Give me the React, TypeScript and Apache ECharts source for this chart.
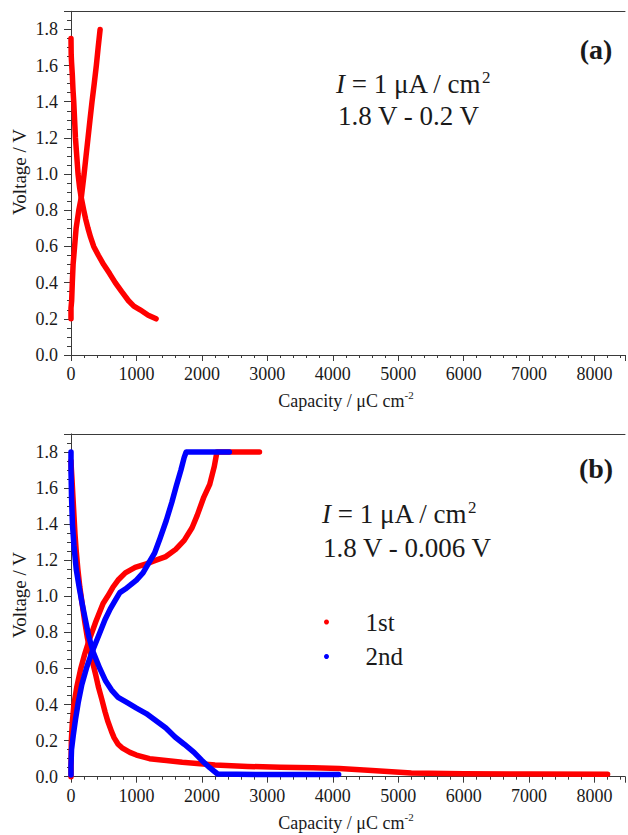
import React, { useEffect, useRef } from 'react';
import * as echarts from 'echarts';

// ---- data (capacity µC cm^-2, voltage V) ----
const A_DISCHARGE: number[][] = [
  [0, 1.75], [3, 1.66], [8, 1.62], [20, 1.55], [30, 1.47], [42, 1.4], [55, 1.3], [68, 1.2], [88, 1.1],
  [108, 1.0], [130, 0.93], [154, 0.875], [195, 0.8], [225, 0.75], [260, 0.7], [300, 0.65], [347, 0.6],
  [420, 0.55], [499, 0.5], [590, 0.45], [676, 0.4], [775, 0.35], [879, 0.3], [960, 0.27], [1056, 0.25],
  [1180, 0.22], [1300, 0.2],
];
const A_CHARGE: number[][] = [
  [0, 0.2], [0, 0.26], [10, 0.3], [20, 0.4], [32, 0.5], [55, 0.6], [78, 0.7], [119, 0.8], [159, 0.875],
  [200, 1.0], [230, 1.1], [260, 1.2], [290, 1.3], [321, 1.4], [355, 1.5], [387, 1.6], [415, 1.7], [445, 1.8],
];
const B1_DISCHARGE: number[][] = [
  [0, 1.75], [5, 1.71], [15, 1.65], [30, 1.55], [45, 1.45], [60, 1.35], [80, 1.25], [105, 1.15], [135, 1.05],
  [170, 0.96], [210, 0.86], [250, 0.77], [290, 0.7], [340, 0.62], [380, 0.56], [417, 0.5], [470, 0.43],
  [520, 0.36], [560, 0.31], [620, 0.25], [660, 0.215], [720, 0.18], [780, 0.16], [900, 0.135], [1000, 0.12],
  [1200, 0.1], [1700, 0.08], [2200, 0.065], [2700, 0.057], [3200, 0.052], [3700, 0.05], [4100, 0.045],
  [4600, 0.035], [5200, 0.02], [6000, 0.016], [7000, 0.015], [8200, 0.014],
];
const B1_CHARGE: number[][] = [
  [0, 0.0], [0, 0.05], [5, 0.2], [20, 0.3], [45, 0.4], [90, 0.5], [150, 0.6], [210, 0.68], [280, 0.76],
  [380, 0.86], [490, 0.96], [560, 1.0], [640, 1.05], [720, 1.09], [830, 1.13], [980, 1.16], [1150, 1.18],
  [1300, 1.2], [1450, 1.22], [1600, 1.26], [1730, 1.31], [1850, 1.38], [1930, 1.45], [2030, 1.55],
  [2120, 1.62], [2190, 1.72], [2230, 1.8], [2500, 1.8], [2880, 1.8],
];
const B2_DISCHARGE: number[][] = [
  [0, 1.8], [0, 1.7], [8, 1.55], [22, 1.4], [45, 1.28], [80, 1.15], [125, 1.05], [170, 0.96], [220, 0.87],
  [270, 0.78], [340, 0.69], [440, 0.6], [530, 0.53], [620, 0.48], [720, 0.44], [860, 0.41], [1000, 0.38],
  [1150, 0.35], [1300, 0.31], [1450, 0.27], [1590, 0.22], [1730, 0.18], [1880, 0.135], [2000, 0.09],
  [2120, 0.05], [2240, 0.015], [3000, 0.012], [4090, 0.012],
];
const B2_CHARGE: number[][] = [
  [0, 0.01], [0, 0.06], [8, 0.15], [35, 0.23], [70, 0.32], [110, 0.41], [165, 0.51], [235, 0.6], [320, 0.69],
  [420, 0.78], [519, 0.87], [600, 0.93], [680, 0.98], [746, 1.02], [830, 1.04], [900, 1.06], [1000, 1.09],
  [1100, 1.13], [1180, 1.18], [1278, 1.24], [1360, 1.32], [1456, 1.42], [1540, 1.52], [1608, 1.61],
  [1680, 1.7], [1730, 1.77], [1760, 1.8], [2100, 1.8], [2420, 1.8],
];

const LEGEND_NAMES = ['1st', '2nd'];
const X_MAX = 8466;
const Y_MAX = 1.9;

const FONT = '"Liberation Serif", "Times New Roman", serif';
const AX = '#3a3a3a';
const TXT = '#1a1a1a';
const RED = '#ff0000';
const BLUE = '#0000ff';

function xAxes(gridIndex: number) {
  return [
    {
      type: 'value', gridIndex, position: 'bottom', min: 0, max: X_MAX, interval: 200,
      axisLine: { show: true, onZero: false, lineStyle: { color: AX, width: 1 } },
      axisTick: { show: true, length: 3, lineStyle: { color: AX } },
      axisLabel: {
        show: true, margin: 10, fontFamily: FONT, fontSize: 18, color: TXT,
        formatter: (v: number) => (Math.round(v) % 1000 === 0 ? String(Math.round(v)) : ''),
      },
      splitLine: { show: false },
    },
    {
      type: 'value', gridIndex, position: 'bottom', min: 0, max: X_MAX, interval: 1000,
      axisLine: { show: false }, axisTick: { show: true, length: 6, lineStyle: { color: AX } },
      axisLabel: { show: false }, splitLine: { show: false },
    },
    {
      type: 'value', gridIndex, position: 'top', min: 0, max: X_MAX,
      axisLine: { show: true, onZero: false, lineStyle: { color: AX, width: 1 } },
      axisTick: { show: false }, axisLabel: { show: false }, splitLine: { show: false },
    },
  ];
}

function yAxes(gridIndex: number) {
  return [
    {
      type: 'value', gridIndex, position: 'left', min: 0, max: Y_MAX, interval: 0.05,
      axisLine: { show: true, onZero: false, lineStyle: { color: AX, width: 1 } },
      axisTick: { show: true, length: 4, lineStyle: { color: AX } },
      axisLabel: {
        show: true, margin: 13, fontFamily: FONT, fontSize: 18, color: TXT,
        formatter: (v: number) => {
          const k = Math.round(v * 100);
          return k % 20 === 0 ? (k / 100).toFixed(1) : '';
        },
      },
      splitLine: { show: false },
    },
    {
      type: 'value', gridIndex, position: 'left', min: 0, max: Y_MAX, interval: 0.2,
      axisLine: { show: false }, axisTick: { show: true, length: 7, lineStyle: { color: AX } },
      axisLabel: { show: false }, splitLine: { show: false },
    },
  ];
}

function curve(name: string, data: number[][], color: string, xi: number, yi: number) {
  return {
    type: 'line', name, data, xAxisIndex: xi, yAxisIndex: yi,
    showSymbol: false, symbol: 'circle', symbolSize: 5, clip: false, silent: true, z: 3,
    lineStyle: { color, width: 5.5, cap: 'round', join: 'round' },
    itemStyle: { color },
  };
}

function label(text: string, x: number, y: number, size: number, extra: any = {}) {
  return {
    type: 'text', x, y, silent: true,
    style: {
      text, fontFamily: FONT, fontSize: size, fill: TXT,
      textAlign: 'left', textVerticalAlign: 'middle', align: 'left', verticalAlign: 'middle', ...extra,
    },
  };
}

function richCurrent(x: number, y: number) {
  return {
    type: 'text', x, y, silent: true,
    style: {
      text: '{i|I}{n| = 1 μA / cm}{s|2}',
      textAlign: 'left', textVerticalAlign: 'middle', align: 'left', verticalAlign: 'middle',
      rich: {
        i: { fontFamily: FONT, fontSize: 27, fontStyle: 'italic', fill: TXT, lineHeight: 30 },
        n: { fontFamily: FONT, fontSize: 27, fill: TXT, lineHeight: 30 },
        s: { fontFamily: FONT, fontSize: 17, fill: TXT, verticalAlign: 'top', lineHeight: 17 },
      },
    },
  };
}

function capacityTitle(y: number) {
  return {
    type: 'text', x: 346, y, silent: true,
    style: {
      text: '{a|Capacity / μC cm}{s|-2}',
      textAlign: 'center', textVerticalAlign: 'middle', align: 'center', verticalAlign: 'middle',
      rich: {
        a: { fontFamily: FONT, fontSize: 18, fill: TXT, lineHeight: 22 },
        s: { fontFamily: FONT, fontSize: 11, fill: TXT, verticalAlign: 'top', lineHeight: 11 },
      },
    },
  };
}

function voltageTitle(y: number) {
  return {
    type: 'text', x: 19.5, y, rotation: Math.PI / 2, silent: true,
    style: {
      text: 'Voltage / V', fontFamily: FONT, fontSize: 19, fill: TXT,
      textAlign: 'center', textVerticalAlign: 'middle', align: 'center', verticalAlign: 'middle',
    },
  };
}

const option: any = {
  animation: false,
  backgroundColor: '#ffffff',
  grid: [
    { left: 71, top: 11.3, width: 557, height: 343.7, show: false },
    { left: 71, top: 433.9, width: 557, height: 342.8, show: false },
  ],
  xAxis: [...xAxes(0), ...xAxes(1)],
  yAxis: [...yAxes(0), ...yAxes(1)],
  legend: {
    data: LEGEND_NAMES, orient: 'vertical', left: 319, top: 604.5,
    itemWidth: 68, itemHeight: 5, itemGap: 9.5, icon: 'circle', selectedMode: false,
    textStyle: { fontFamily: FONT, fontSize: 25, color: TXT },
  },
  series: [
    curve('a-discharge', A_DISCHARGE, RED, 0, 0),
    curve('a-charge', A_CHARGE, RED, 0, 0),
    curve('1st', B1_DISCHARGE, RED, 3, 2),
    curve('1st', B1_CHARGE, RED, 3, 2),
    curve('2nd', B2_DISCHARGE, BLUE, 3, 2),
    curve('2nd', B2_CHARGE, BLUE, 3, 2),
  ],
  graphic: [
    label('(a)', 596, 49, 28, { fontWeight: 'bold', textAlign: 'center', align: 'center' }),
    richCurrent(336, 83.5),
    label('1.8 V - 0.2 V', 338, 116, 27),
    label('(b)', 596, 468, 28, { fontWeight: 'bold', textAlign: 'center', align: 'center' }),
    richCurrent(322, 514),
    label('1.8 V - 0.006 V', 323, 547.5, 27),
    voltageTitle(172),
    voltageTitle(595),
    capacityTitle(400.5),
    capacityTitle(822.5),
  ],
};

export default function App() {
  const ref = useRef<HTMLDivElement>(null);
  useEffect(() => {
    if (!ref.current) return;
    const chart = echarts.init(ref.current, null, { renderer: 'svg' });
    chart.setOption(option);
    return () => chart.dispose();
  }, []);
  return (
    <div
      ref={ref}
      style={{ position: 'absolute', left: 0, top: 0, width: 628, height: 835, background: '#fff', overflow: 'hidden' }}
    />
  );
}
